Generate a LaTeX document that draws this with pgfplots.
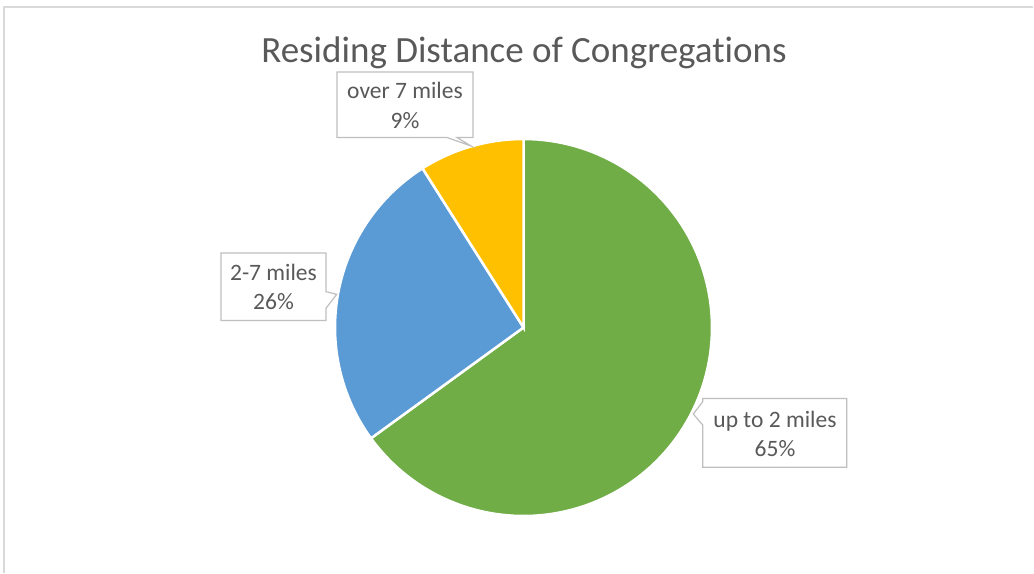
\documentclass[border=0pt]{standalone}
\usepackage{pgfplots}
\pgfplotsset{compat=1.18}
\usepackage{fontspec}
\setmainfont{Carlito}[Ligatures=NoCommon]
\definecolor{cgreen}{HTML}{70AD47}
\definecolor{cblue}{HTML}{5B9BD5}
\definecolor{cyellow}{HTML}{FFC000}
\definecolor{ctext}{HTML}{595959}
\definecolor{cbox}{HTML}{BFBFBF}
\definecolor{cframe}{HTML}{D9D9D9}
% shares in percent
\def\vA{65}% up to 2 miles
\def\vB{26}% 2-7 miles
\def\vC{9}%  over 7 miles
\pgfmathsetmacro{\aA}{90-3.6*\vA}
\pgfmathsetmacro{\aB}{\aA-3.6*\vB}
\pgfmathsetmacro{\aC}{\aB-3.6*\vC}
\def\cx{523.5}
\def\cy{245.5}
\def\rr{188.5}
\begin{document}
\begin{tikzpicture}
\begin{axis}[
  width=1034bp, height=573bp, scale only axis,
  xmin=0, xmax=1034, ymin=0, ymax=573,
  hide axis, clip=false,
]
\path (axis cs:0,0) rectangle (axis cs:1034,573);
% chart frame
\draw[cframe, line width=1.5bp] (axis cs:4,0) -- (axis cs:4,566) -- (axis cs:1033,566);
% wedges
\addplot[fill=cgreen, draw=white, line width=2.5bp, samples=120, domain=\aA:90, variable=\t]
  ({\cx+\rr*cos(\t)}, {\cy+\rr*sin(\t)}) -- (axis cs:\cx,\cy) -- cycle;
\addplot[fill=cblue, draw=white, line width=2.5bp, samples=60, domain=\aB:\aA, variable=\t]
  ({\cx+\rr*cos(\t)}, {\cy+\rr*sin(\t)}) -- (axis cs:\cx,\cy) -- cycle;
\addplot[fill=cyellow, draw=white, line width=2.5bp, samples=30, domain=\aC:\aB, variable=\t]
  ({\cx+\rr*cos(\t)}, {\cy+\rr*sin(\t)}) -- (axis cs:\cx,\cy) -- cycle;
% title
\node[anchor=base, text=ctext, font=\fontsize{37bp}{40bp}\selectfont] at (axis cs:524,510) {Residing Distance of Congregations};
% callout: over 7 miles
\draw[cbox, fill=white, line width=1.2bp] (axis cs:337,501) -- (axis cs:473,501) -- (axis cs:473,435.5)
  -- (axis cs:457,435.5) -- (axis cs:471,427) -- (axis cs:447,435.5) -- (axis cs:337,435.5) -- cycle;
\node[anchor=base, text=ctext, font=\fontsize{23.5bp}{28bp}\selectfont] at (axis cs:405,474.7) {over 7 miles};
\node[anchor=base, text=ctext, font=\fontsize{23.5bp}{28bp}\selectfont] at (axis cs:405,444.7) {9\%};
% callout: 2-7 miles
\draw[cbox, fill=white, line width=1.2bp] (axis cs:221,320) -- (axis cs:326,320) -- (axis cs:326,281.3)
  -- (axis cs:336.7,278.7) -- (axis cs:326,264.7) -- (axis cs:326,252.5) -- (axis cs:221,252.5) -- cycle;
\node[anchor=base, text=ctext, font=\fontsize{23.5bp}{28bp}\selectfont] at (axis cs:273.5,292.3) {2-7 miles};
\node[anchor=base, text=ctext, font=\fontsize{23.5bp}{28bp}\selectfont] at (axis cs:273.5,263.7) {26\%};
% callout: up to 2 miles
\draw[cbox, fill=white, line width=1.2bp] (axis cs:702.7,174.5) -- (axis cs:702.7,171.3) -- (axis cs:693.3,159)
  -- (axis cs:702.7,148) -- (axis cs:702.7,105.7) -- (axis cs:846.7,105.7) -- (axis cs:846.7,174.5) -- cycle;
\node[anchor=base, text=ctext, font=\fontsize{23.5bp}{28bp}\selectfont] at (axis cs:775,145.7) {up to 2 miles};
\node[anchor=base, text=ctext, font=\fontsize{23.5bp}{28bp}\selectfont] at (axis cs:775,117) {65\%};
\end{axis}
\end{tikzpicture}
\end{document}
